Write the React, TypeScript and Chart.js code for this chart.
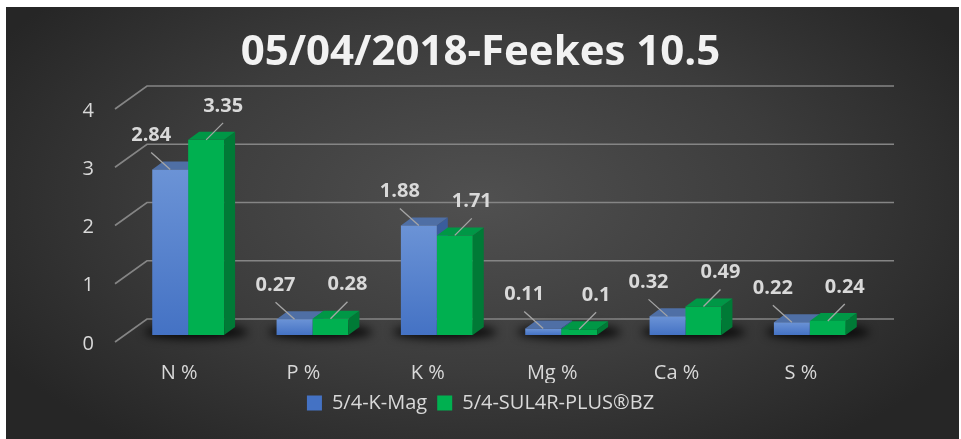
import React, { useEffect, useRef } from "react";
import { Chart, registerables } from "chart.js";

Chart.register(...registerables);

const chartTitle = "05/04/2018-Feekes 10.5";
const categories = ["N %", "P %", "K %", "Mg %", "Ca %", "S %"];
const seriesNames = ["5/4-K-Mag", "5/4-SUL4R-PLUS®BZ"];
const kMagValues = [2.84, 0.27, 1.88, 0.11, 0.32, 0.22];
const sul4rValues = [3.35, 0.28, 1.71, 0.1, 0.49, 0.24];
const yTickValues = [0, 1, 2, 3, 4];

const FONT = "'Open Sans', 'DejaVu Sans', sans-serif";
const TEXT = "#d9d9d9";
const DEPTH_DX = 11;
const DEPTH_DY = -8;
const faces = [
  { top: "#4f6fa5", side: "#3a5d9c" },
  { top: "#009746", side: "#007a36" },
];

function drawFaces(chart: any, index: number) {
  const { ctx } = chart;
  const f = faces[index];
  const meta = chart.getDatasetMeta(index);
  ctx.save();
  meta.data.forEach((b: any) => {
    const p = b.getProps(["x", "y", "base", "width"], true);
    const l = p.x - p.width / 2;
    const r = p.x + p.width / 2;
    const t = p.y;
    const base = p.base;
    ctx.fillStyle = f.side;
    ctx.beginPath();
    ctx.moveTo(r, t);
    ctx.lineTo(r + DEPTH_DX, t + DEPTH_DY);
    ctx.lineTo(r + DEPTH_DX, base + DEPTH_DY);
    ctx.lineTo(r, base);
    ctx.closePath();
    ctx.fill();
    ctx.fillStyle = f.top;
    ctx.beginPath();
    ctx.moveTo(l, t);
    ctx.lineTo(l + DEPTH_DX, t + DEPTH_DY);
    ctx.lineTo(r + DEPTH_DX, t + DEPTH_DY);
    ctx.lineTo(r, t);
    ctx.closePath();
    ctx.fill();
  });
  ctx.restore();
}

const bgPlugin = {
  id: "bg",
  beforeDraw(chart: any) {
    const { ctx, width, height } = chart;
    ctx.save();
    ctx.fillStyle = "#ffffff";
    ctx.fillRect(0, 0, width, height);
    ctx.beginPath();
    ctx.rect(6, 7, 953, height - 7);
    ctx.clip();
    ctx.translate(480, 200);
    ctx.scale(1, 0.55);
    const g = ctx.createRadialGradient(0, 0, 0, 0, 0, 560);
    g.addColorStop(0, "#505050");
    g.addColorStop(0.55, "#3c3c3c");
    g.addColorStop(1, "#262626");
    ctx.fillStyle = g;
    ctx.fillRect(-700, -800, 1400, 1600);
    ctx.restore();
  },
};

const wallPlugin = {
  id: "walls",
  beforeDatasetsDraw(chart: any) {
    const { ctx, chartArea, scales } = chart;
    const y = scales.y;
    const { left, right } = chartArea;
    ctx.save();
    ctx.strokeStyle = "#858585";
    ctx.lineWidth = 1.7;
    for (const v of yTickValues) {
      const py = y.getPixelForValue(v);
      ctx.beginPath();
      ctx.moveTo(left - 11, py + 7);
      ctx.lineTo(left + 21, py - 16);
      ctx.lineTo(right + 22, py - 16);
      ctx.stroke();
    }
    const m0 = chart.getDatasetMeta(0);
    const m1 = chart.getDatasetMeta(1);
    ctx.filter = "blur(5px)";
    ctx.fillStyle = "rgba(0,0,0,0.85)";
    m0.data.forEach((b0: any, i: number) => {
      const b1 = m1.data[i];
      const p0 = b0.getProps(["x", "width", "base"], true);
      const p1 = b1.getProps(["x", "width"], true);
      const l = p0.x - p0.width / 2;
      const r = p1.x + p1.width / 2;
      const base = p0.base;
      ctx.beginPath();
      ctx.ellipse((l + r) / 2 + 8, base - 3, (r - l) / 2 + 16, 7, 0, 0, Math.PI * 2);
      ctx.fill();
    });
    ctx.filter = "none";
    ctx.restore();
    // first series' depth faces go underneath the second series' front faces
    drawFaces(chart, 0);
  },
  afterDatasetDraw(chart: any, args: any) {
    if (args.index === 1) drawFaces(chart, 1);
  },
  afterDraw(chart: any) {
    const { ctx } = chart;
    ctx.save();
    ctx.font = `bold 20px ${FONT}`;
    ctx.textAlign = "center";
    ctx.textBaseline = "middle";
    [0, 1].forEach((di) => {
      const meta = chart.getDatasetMeta(di);
      const ds = chart.data.datasets[di];
      const dx = di === 0 ? -19 : 17;
      meta.data.forEach((b: any, i: number) => {
        const p = b.getProps(["x", "y"], true);
        const lx = p.x + dx;
        const ly = p.y - 34;
        ctx.strokeStyle = "#a6a6a6";
        ctx.lineWidth = 1.3;
        ctx.beginPath();
        ctx.moveTo(lx, ly + 17);
        ctx.lineTo(p.x, p.y);
        ctx.stroke();
        ctx.fillStyle = TEXT;
        ctx.fillText(String(ds.data[i]), lx, ly);
      });
    });
    ctx.restore();
  },
};

export default function App() {
  const ref = useRef<HTMLCanvasElement | null>(null);
  useEffect(() => {
    if (!ref.current) return;
    const chart = new Chart(ref.current, {
      type: "bar",
      data: {
        labels: categories,
        datasets: [
          {
            label: seriesNames[0],
            data: kMagValues,
            borderWidth: 0,
            backgroundColor: (c: any) => {
              if (c.type !== "data" || !c.chart.chartArea) return "#5b8cd4";
              const y = c.chart.scales.y;
              const top = y.getPixelForValue(c.raw);
              const base = y.getPixelForValue(0);
              const g = c.chart.ctx.createLinearGradient(0, top, 0, base);
              g.addColorStop(0, "#6b93d6");
              g.addColorStop(1, "#4472c4");
              return g;
            },
          },
          {
            label: seriesNames[1],
            data: sul4rValues,
            borderWidth: 0,
            backgroundColor: "#00b050",
          },
        ],
      },
      options: {
        responsive: false,
        animation: false,
        devicePixelRatio: 1,
        layout: { padding: { top: 0, left: 0, right: 0, bottom: 16 } },
        datasets: { bar: { categoryPercentage: 0.578, barPercentage: 1 } } as any,
        plugins: {
          title: {
            display: true,
            text: chartTitle,
            color: "#f2f2f2",
            font: { family: FONT, size: 42, weight: "bold", lineHeight: 1.2 },
            padding: { top: 28, bottom: 23.6 },
          },
          legend: {
            display: true,
            position: "bottom",
            labels: {
              color: TEXT,
              font: { family: FONT, size: 20 },
              boxWidth: 15,
              boxHeight: 15,
              padding: 10,
            },
          },
          tooltip: { enabled: false },
        },
        scales: {
          x: {
            grid: { display: false, drawTicks: false },
            border: { display: false },
            ticks: { color: TEXT, font: { family: FONT, size: 20 }, padding: 26, labelOffset: -9 },
            afterFit: (s: any) => {
              const lh = s.chart.legend ? s.chart.legend.height : 40;
              s.height = s.chart.height - 16 - lh - 335;
            },
          },
          y: {
            min: 0,
            max: 4,
            grid: { display: false, drawTicks: false },
            border: { display: false },
            ticks: { stepSize: 1, color: TEXT, font: { family: FONT, size: 20 }, padding: 32, labelOffset: 9 },
            afterFit: (s: any) => {
              s.width = 126;
            },
          },
          yR: {
            position: "right",
            display: true,
            grid: { display: false, drawTicks: false },
            border: { display: false },
            ticks: { display: false },
            afterFit: (s: any) => {
              s.width = 89;
            },
          },
        },
      },
      plugins: [bgPlugin, wallPlugin],
    } as any);
    return () => chart.destroy();
  }, []);
  return (
    <div style={{ position: "absolute", left: 0, top: 0, width: 961, height: 439 }}>
      <canvas ref={ref} width={961} height={439} style={{ display: "block" }} />
    </div>
  );
}
